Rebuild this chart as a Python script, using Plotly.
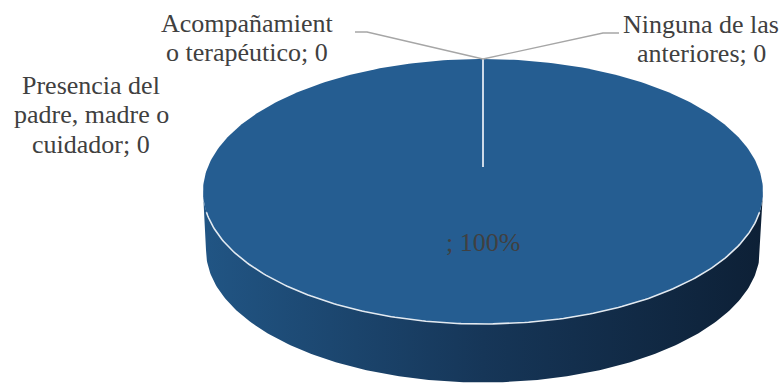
import numpy as np
import plotly.graph_objects as go

# ---- data -------------------------------------------------------------
categories = [
    "Presencia del padre, madre o cuidador",
    "Acompañamiento terapéutico",
    "Ninguna de las anteriores",
    "",
]
values = [0, 0, 0, 1.0]
value_formats = ["{:.0f}", "{:.0f}", "{:.0f}", "{:.0%}"]

# ---- geometry of the tilted 3-D pie (pixel space) ---------------------
W, H = 784, 385
CX, CY = 483, 191.5      # centre of the top face ellipse
RX, RY = 280, 132.5      # radii of the top face
DEPTH = 58.5             # thickness of the disc
BRX = 277                # bottom rim is slightly narrower (perspective)
HUB_Y = 167              # projected pie centre on the top face

TOP_COLOR = "#255D91"
SIDE_SCALE = [[0, "rgb(33,85,132)"], [0.5, "rgb(22,54,88)"], [1, "rgb(13,32,54)"]]
TEXT_COLOR = "#404040"
FONT = "Liberation Serif, Times New Roman, serif"
FS = 26

# outside label placement: centre x, first baseline, line breaks, leader elbow/end
label_layout = [
    dict(x=91, base=93, breaks=[14, 29], leader=None),
    dict(x=247, base=31, breaks=[13], leader=[(367, 32), (355, 32)]),
    dict(x=701, base=32, breaks=[15], leader=[(603, 33), (619, 33)]),
]
LINE_H = 29.5


def edge_point(theta):
    """Point on the top rim, theta clockwise from 12 o'clock."""
    return CX + RX * np.sin(theta), CY - RY * np.cos(theta)


def split_at(text, idx):
    parts, start = [], 0
    for i in idx:
        parts.append(text[start:i].strip())
        start = i
    parts.append(text[start:].strip())
    return parts


fig = go.Figure()

# side wall of the disc
t = np.linspace(0, np.pi, 200)
top_front_x = CX - RX * np.cos(t)
top_front_y = CY + RY * np.sin(t)
bot_front_x = CX + BRX * np.cos(t)
bot_front_y = CY + DEPTH + RY * np.sin(t)
fig.add_trace(go.Scatter(
    x=np.concatenate([top_front_x, bot_front_x]),
    y=np.concatenate([top_front_y, bot_front_y]),
    mode="lines", line=dict(width=0), fill="toself",
    fillgradient=dict(type="horizontal", colorscale=SIDE_SCALE),
    hoverinfo="skip", showlegend=False,
))

# slices on the top face
total = sum(values)
cum = np.concatenate([[0], np.cumsum(values)]) / total
for i, v in enumerate(values):
    a0, a1 = 2 * np.pi * cum[i], 2 * np.pi * cum[i + 1]
    if a1 - a0 <= 0:
        continue
    th = np.linspace(a0, a1, 400)
    ex, ey = edge_point(th)
    if a1 - a0 < 2 * np.pi - 1e-9:
        ex = np.concatenate([[CX], ex, [CX]])
        ey = np.concatenate([[HUB_Y], ey, [HUB_Y]])
    fig.add_trace(go.Scatter(
        x=ex, y=ey, mode="lines", line=dict(width=0),
        fill="toself", fillcolor=TOP_COLOR,
        hoverinfo="skip", showlegend=False,
    ))

# light rim along the front edge of the top face
tr = np.linspace(np.radians(9), np.radians(171), 200)
fig.add_trace(go.Scatter(
    x=CX + RX * np.cos(tr), y=CY + RY * np.sin(tr),
    mode="lines", line=dict(color="rgba(235,240,245,0.95)", width=1.6),
    hoverinfo="skip", showlegend=False,
))

# slice boundaries (radial lines)
for c in cum[:-1]:
    px, py = edge_point(2 * np.pi * c)
    fig.add_trace(go.Scatter(
        x=[CX, px], y=[HUB_Y, py], mode="lines",
        line=dict(color="rgba(205,218,232,0.95)", width=1.8),
        hoverinfo="skip", showlegend=False,
    ))

annotations = []
for i, (cat, v, fmt) in enumerate(zip(categories, values, value_formats)):
    text = f"{cat}; {fmt.format(v)}"
    mid = np.pi * (cum[i] + cum[i + 1])
    if v == 0:
        lay = label_layout[i]
        ex, ey = edge_point(mid)
        if lay["leader"]:
            lx = [ex] + [p[0] for p in lay["leader"]]
            ly = [ey] + [p[1] for p in lay["leader"]]
            fig.add_trace(go.Scatter(
                x=lx, y=ly, mode="lines",
                line=dict(color="#A6A6A6", width=1.3),
                hoverinfo="skip", showlegend=False,
            ))
        for k, line in enumerate(split_at(text, lay["breaks"])):
            annotations.append(dict(
                x=lay["x"], y=lay["base"] + k * LINE_H - 8,
                text=line, showarrow=False, xanchor="center", yanchor="middle",
                font=dict(family=FONT, size=FS, color=TEXT_COLOR),
            ))
    else:
        ex, ey = edge_point(mid)
        f = 0.48
        annotations.append(dict(
            x=CX + f * (ex - CX), y=HUB_Y + f * (ey - HUB_Y),
            text=text, showarrow=False, xanchor="center", yanchor="middle",
            font=dict(family=FONT, size=FS, color=TEXT_COLOR),
        ))

fig.update_layout(
    width=W, height=H,
    margin=dict(l=0, r=0, t=0, b=0),
    paper_bgcolor="white", plot_bgcolor="white",
    font=dict(family=FONT),
    xaxis=dict(range=[0, W], visible=False, fixedrange=True),
    yaxis=dict(range=[H, 0], visible=False, fixedrange=True),
    annotations=annotations,
    showlegend=False,
)

fig.write_html("out.html")
